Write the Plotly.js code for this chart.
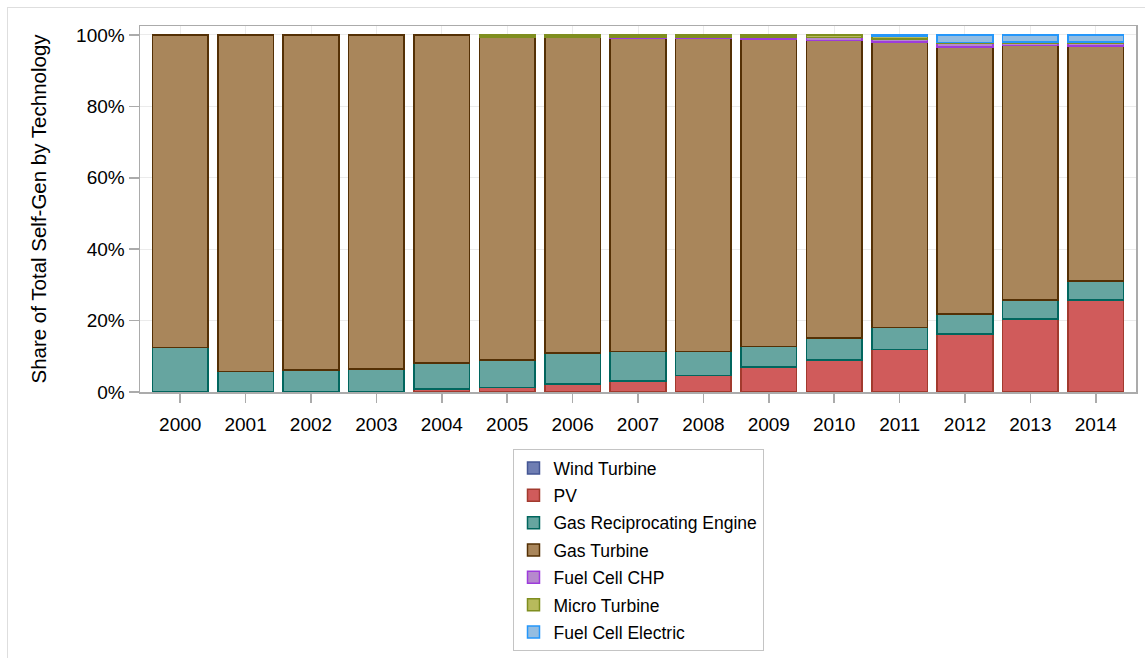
<!DOCTYPE html>
<html>
<head>
<meta charset="utf-8">
<script src="https://cdn.plot.ly/plotly-3.0.1.min.js"></script>
<style>
  html, body { margin: 0; padding: 0; background: #fff; overflow: hidden; }
  #frame { position: absolute; left: 7px; top: 7px; width: 1150px; height: 660px; border: 1px solid #dedede; pointer-events: none; z-index: 5; }
  #chart { position: absolute; left: 0; top: 0; width: 1145px; height: 658px; }
</style>
</head>
<body>
<div id="chart"></div>
<div id="frame"></div>
<script>
const years = ['2000','2001','2002','2003','2004','2005','2006','2007','2008','2009','2010','2011','2012','2013','2014'];

const windTurbine   = [0, 0, 0, 0, 0, 0, 0, 0, 0, 0, 0, 0, 0, 0, 0];
const pv            = [0, 0, 0, 0.2, 0.8, 1.3, 2.2, 3.1, 4.6, 7.0, 9.0, 11.9, 16.2, 20.4, 25.7];
const gasRecip      = [12.4, 5.7, 6.2, 6.3, 7.3, 7.7, 8.7, 8.2, 6.7, 5.8, 6.1, 6.1, 5.6, 5.3, 5.4];
const fuelCellCHP   = [0, 0, 0, 0, 0, 0, 0, 0.4, 0.4, 0.5, 0.9, 0.9, 1.0, 0.6, 0.9];
const microTurbine  = [0, 0, 0, 0, 0, 0.6, 0.6, 0.6, 0.6, 0.6, 0.7, 0.6, 0.3, 0.4, 0.2];
const fuelCellElec  = [0, 0, 0, 0, 0, 0, 0, 0, 0, 0, 0, 0.5, 2.1, 2.0, 2.0];
const gasTurbine    = years.map((_, i) => 100 - windTurbine[i] - pv[i] - gasRecip[i] - fuelCellCHP[i] - microTurbine[i] - fuelCellElec[i]);

const series = [
  {name: 'Wind Turbine', y: windTurbine, fill: '#6F7EB3', line: '#445694'},
  {name: 'PV', y: pv, fill: '#D05B5B', line: '#A23A2E'},
  {name: 'Gas Reciprocating Engine', y: gasRecip, fill: '#66A5A0', line: '#01665E'},
  {name: 'Gas Turbine', y: gasTurbine, fill: '#A9865B', line: '#543005'},
  {name: 'Fuel Cell CHP', y: fuelCellCHP, fill: '#B689CD', line: '#9D3CDB'},
  {name: 'Micro Turbine', y: microTurbine, fill: '#B7BA5C', line: '#7F8E1F'},
  {name: 'Fuel Cell Electric', y: fuelCellElec, fill: '#94BDE1', line: '#2597FA'}
];

const traces = series.map((s, k) => ({
  type: 'bar',
  name: s.name,
  x: years,
  y: s.y.map(v => (v === 0 ? null : v)),
  legendgroup: 'g' + k,
  marker: {color: s.fill, line: {color: s.line, width: 1.5}},
  hoverinfo: 'x+y+name'
}));

const layout = {
  width: 1145,
  height: 658,
  margin: {l: 140, r: 9, t: 26, b: 266, autoexpand: false},
  paper_bgcolor: '#ffffff',
  plot_bgcolor: '#ffffff',
  font: {family: 'Liberation Sans, Arial, sans-serif', color: '#000000', size: 19},
  barmode: 'stack',
  bargap: 0.15,
  showlegend: true,
  legend: {
    x: 0.5, xanchor: 'center', y: -0.156, yanchor: 'top',
    orientation: 'v',
    traceorder: 'grouped',
    tracegroupgap: 1.6,
    bordercolor: '#c4c4c4', borderwidth: 1, bgcolor: '#ffffff',
    font: {family: 'Liberation Sans, Arial, sans-serif', size: 17.5, color: '#000'}
  },
  xaxis: {
    type: 'category',
    range: [-0.615, 14.615],
    showgrid: true, gridcolor: '#ebebeb', gridwidth: 1,
    showline: true, linecolor: '#ababab', linewidth: 1.5, mirror: true,
    ticks: 'outside', ticklen: 9, tickcolor: '#ababab', tickwidth: 1.5,
    ticklabelstandoff: 6,
    tickfont: {size: 19},
    zeroline: false
  },
  yaxis: {
    range: [0, 102.5],
    tickvals: [0, 20, 40, 60, 80, 100],
    ticktext: ['0%', '20%', '40%', '60%', '80%', '100%'],
    showgrid: true, gridcolor: '#ebebeb', gridwidth: 1,
    showline: true, linecolor: '#ababab', linewidth: 1.5, mirror: true,
    ticks: 'outside', ticklen: 10, tickcolor: '#ababab', tickwidth: 1.5,
    tickfont: {size: 19},
    zeroline: false,
    title: {text: 'Share of Total Self-Gen by Technology', font: {size: 20.5}, standoff: 24}
  }
};

Plotly.newPlot('chart', traces, layout, {displayModeBar: false, staticPlot: true});
</script>
</body>
</html>
